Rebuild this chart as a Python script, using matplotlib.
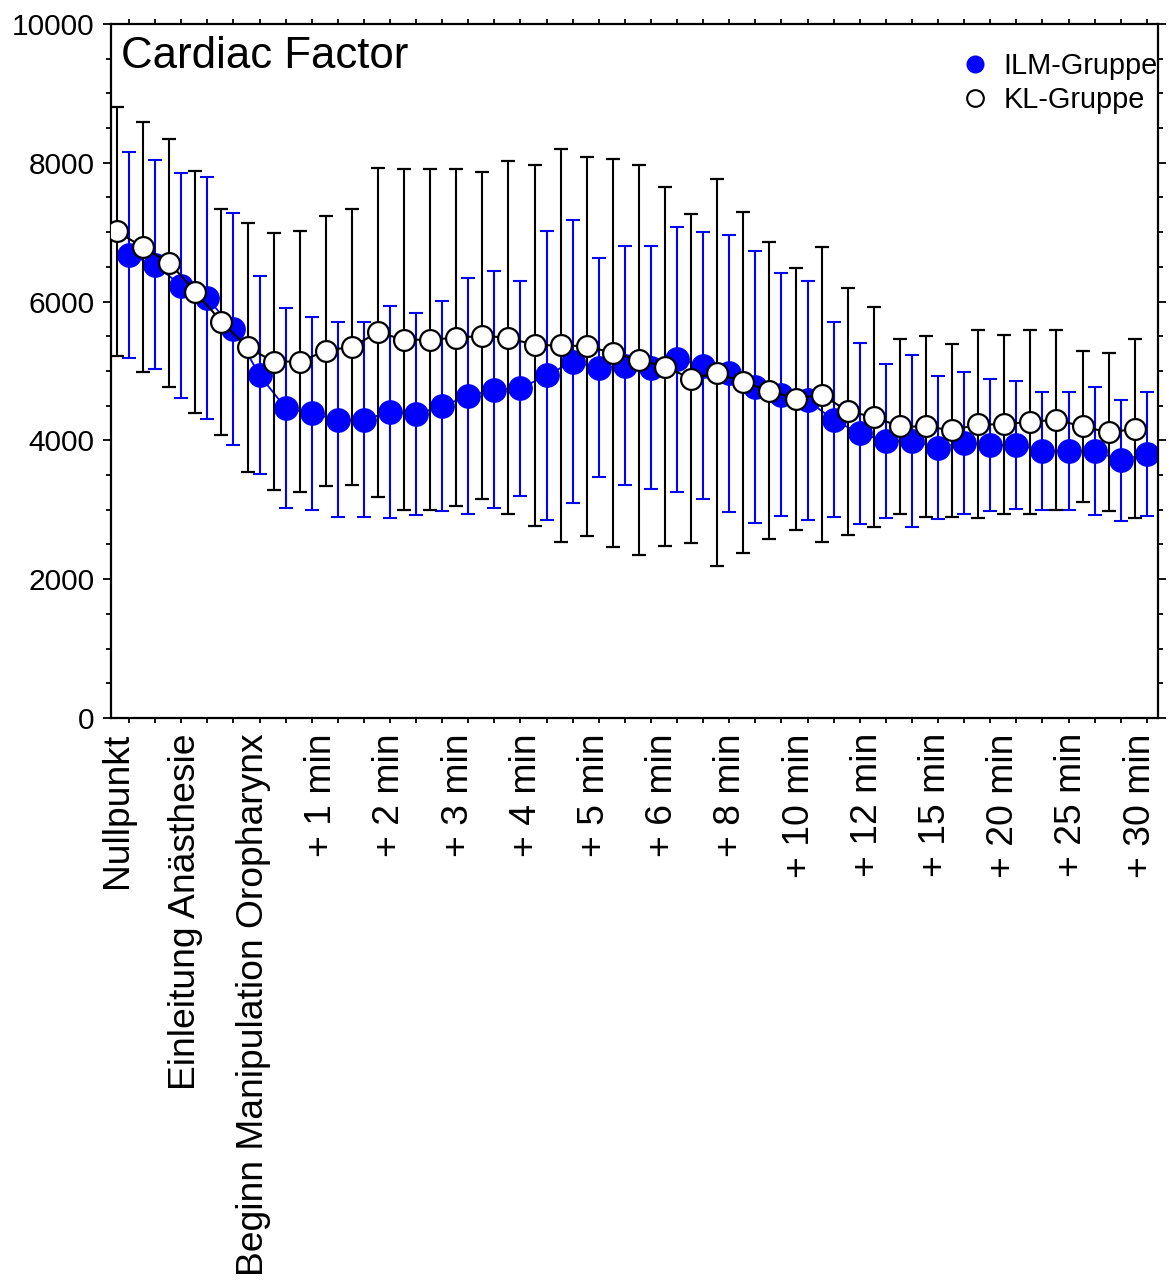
import matplotlib.pyplot as plt
import numpy as np
from matplotlib.lines import Line2D

plt.rcParams['font.family'] = ['Liberation Sans', 'DejaVu Sans']

labels = ['Nullpunkt', 'Einleitung Anästhesie', 'Beginn Manipulation Oropharynx',
          '+ 1 min', '+ 2 min', '+ 3 min', '+ 4 min', '+ 5 min', '+ 6 min',
          '+ 8 min', '+ 10 min', '+ 12 min', '+ 15 min', '+ 20 min',
          '+ 25 min', '+ 30 min']

ilm_mean = [6670, 6530, 6230, 6050, 5605, 4940, 4465, 4390, 4295, 4295,
            4410, 4380, 4490, 4645, 4730, 4750, 4935, 5135, 5045, 5075,
            5045, 5170, 5075, 4965, 4770, 4660, 4575, 4295, 4100, 3990,
            3990, 3895, 3965, 3935, 3935, 3850, 3850, 3850, 3710, 3805]
ilm_sd = [1480, 1505, 1620, 1740, 1670, 1430, 1445, 1390, 1405, 1405,
          1525, 1460, 1515, 1700, 1710, 1550, 2080, 2040, 1580, 1720,
          1750, 1910, 1925, 2000, 1960, 1755, 1720, 1405, 1300, 1115,
          1235, 1025, 1025, 950, 925, 850, 850, 925, 870, 890]

kl_mean = [7010, 6780, 6560, 6140, 5710, 5340, 5135, 5135, 5290, 5350,
           5555, 5450, 5450, 5480, 5505, 5480, 5370, 5370, 5355, 5260,
           5160, 5060, 4890, 4975, 4835, 4715, 4600, 4660, 4420, 4335,
           4200, 4200, 4145, 4230, 4230, 4270, 4295, 4200, 4115, 4165]
kl_sd = [1800, 1800, 1785, 1745, 1630, 1795, 1855, 1880, 1945, 1990,
         2375, 2460, 2455, 2425, 2355, 2545, 2600, 2835, 2730, 2795,
         2810, 2585, 2370, 2785, 2460, 2140, 1885, 2120, 1780, 1580,
         1260, 1300, 1250, 1355, 1285, 1325, 1295, 1085, 1140, 1290]

x_ilm = np.arange(len(ilm_mean))
x_kl = x_ilm - 0.46  # KL-Gruppe leicht nach links versetzt

fig = plt.figure(figsize=(11.69, 12.8), dpi=100)
ax = fig.add_axes([0.095, 0.4391, 0.8956, 0.5422])

blue = (0, 0, 1)
ax.errorbar(x_ilm, ilm_mean, yerr=ilm_sd, color=blue, lw=1.3, elinewidth=1.5,
            capsize=5, capthick=1.5, marker='o', ms=16.8, mfc=blue, mec=blue,
            zorder=2)
ax.errorbar(x_kl, kl_mean, yerr=kl_sd, color='black', lw=1.5, elinewidth=1.5,
            capsize=5, capthick=1.5, marker='o', ms=15, mfc='white', mec='black',
            mew=1.6, zorder=3)

ax.set_xlim(-0.69, 39.43)
ax.set_ylim(0, 10000)

# y-Achse
ax.set_yticks(np.arange(0, 10001, 2000))
ax.set_yticks(np.arange(0, 10001, 500), minor=True)
ax.tick_params(axis='y', which='major', direction='out', length=6, width=1.3,
               labelsize=21.5, right=True, pad=6)
ax.tick_params(axis='y', which='minor', direction='out', length=3.6, width=1.3,
               right=True)

# x-Achse: 40 kleine Striche, Beschriftung gleichmäßig verteilt
ax.set_xticks(x_ilm, minor=True)
ax.set_xticks(np.linspace(x_kl[0], x_ilm[-1] - 0.26, len(labels)))
ax.set_xticklabels(labels, rotation=90, fontsize=26.8)
ax.tick_params(axis='x', which='major', length=0, pad=11)
ax.tick_params(axis='x', which='minor', direction='out', length=3.6, width=1.3,
               top=True)

for s in ax.spines.values():
    s.set_linewidth(1.6)

ax.text(0.0095, 0.982, 'Cardiac Factor', transform=ax.transAxes,
        fontsize=31.5, ha='left', va='top')

handles = [
    Line2D([], [], ls='none', marker='o', ms=13, mfc=blue, mec=blue, mew=0),
    Line2D([], [], ls='none', marker='o', ms=12, mfc='white', mec='black', mew=1.5),
]
leg = ax.legend(handles, ['ILM-Gruppe', 'KL-Gruppe'], loc='upper right',
                bbox_to_anchor=(1.0, 0.959), frameon=False, fontsize=20.8,
                handlelength=1.0, handletextpad=0.5, labelspacing=0.2,
                borderpad=0, borderaxespad=0)

fig.savefig('out.png', dpi=100)
